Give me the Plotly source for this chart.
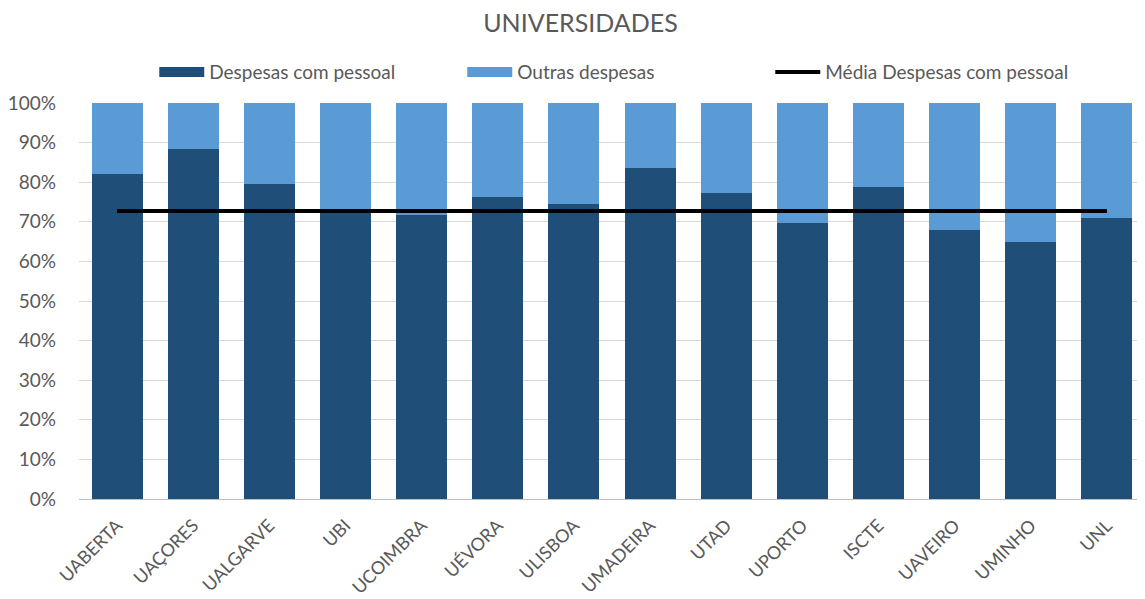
import plotly.graph_objects as go

# valores (percentagem da despesa total)
universidades = [
    "UABERTA", "UAÇORES", "UALGARVE", "UBI", "UCOIMBRA", "UÉVORA", "ULISBOA",
    "UMADEIRA", "UTAD", "UPORTO", "ISCTE", "UAVEIRO", "UMINHO", "UNL",
]
despesas_pessoal = [82.0, 88.4, 79.5, 72.8, 71.6, 76.2, 74.5, 83.7, 77.2, 69.8, 78.9, 67.9, 65.0, 71.0]
outras_despesas = [18.0, 11.6, 20.5, 27.2, 28.4, 23.8, 25.5, 16.3, 22.8, 30.2, 21.1, 32.1, 35.0, 29.0]
media_pessoal = [72.7] * len(universidades)
y_ticks = [0, 10, 20, 30, 40, 50, 60, 70, 80, 90, 100]
y_labels = ["0%", "10%", "20%", "30%", "40%", "50%", "60%", "70%", "80%", "90%", "100%"]

AZUL_ESCURO = "#1F4E79"
AZUL_CLARO = "#5B9BD5"
TEXTO = "#595959"
FONTE = "Lato, 'Open Sans', sans-serif"

fig = go.Figure()
fig.add_trace(go.Bar(
    x=universidades, y=despesas_pessoal, name="Despesas com pessoal",
    marker=dict(color=AZUL_ESCURO, line=dict(width=0)), showlegend=False,
))
fig.add_trace(go.Bar(
    x=universidades, y=outras_despesas, name="Outras despesas",
    marker=dict(color=AZUL_CLARO, line=dict(width=0)), showlegend=False,
))
fig.add_trace(go.Scatter(
    x=universidades, y=media_pessoal, name="Média Despesas com pessoal",
    mode="lines", line=dict(color="black", width=4), showlegend=False,
))

# entradas da legenda com amostras largas, como no original
for nome, cor, larg in [
    ("Despesas com pessoal", AZUL_ESCURO, 11),
    ("Outras despesas", AZUL_CLARO, 11),
    ("Média Despesas com pessoal", "black", 4),
]:
    fig.add_trace(go.Scatter(
        x=[None], y=[None], name=nome, mode="lines",
        line=dict(color=cor, width=larg), hoverinfo="skip",
    ))

fig.update_layout(
    width=1145,
    height=599,
    barmode="stack",
    bargap=0.33,
    plot_bgcolor="white",
    paper_bgcolor="white",
    font=dict(family=FONTE, color=TEXTO, size=19),
    title=dict(
        text="UNIVERSIDADES", x=0.5, xanchor="center", y=1, yanchor="top",
        pad=dict(t=6), font=dict(size=25, color=TEXTO, family=FONTE),
    ),
    legend=dict(
        orientation="h", x=0.504, xanchor="center", y=1.078, yanchor="middle",
        font=dict(size=19, color=TEXTO), traceorder="normal",
        entrywidth=248, entrywidthmode="pixels", itemwidth=45,
        bgcolor="rgba(0,0,0,0)",
    ),
    margin=dict(l=71, r=8, t=95, b=108),
)
fig.update_xaxes(
    tickangle=-45, tickfont=dict(size=18, color=TEXTO), showgrid=False,
    showline=True, linecolor="#BFBFBF", linewidth=1, ticks="", automargin=False,
    ticklabelstandoff=8,
)
fig.update_yaxes(
    range=[0, 100], tickvals=y_ticks, ticktext=y_labels, tickfont=dict(size=19, color=TEXTO),
    showgrid=True, gridcolor="#D9D9D9", gridwidth=1, zeroline=False, ticks="",
    automargin=False, ticklabelstandoff=22,
)

fig.write_html("out.html")
